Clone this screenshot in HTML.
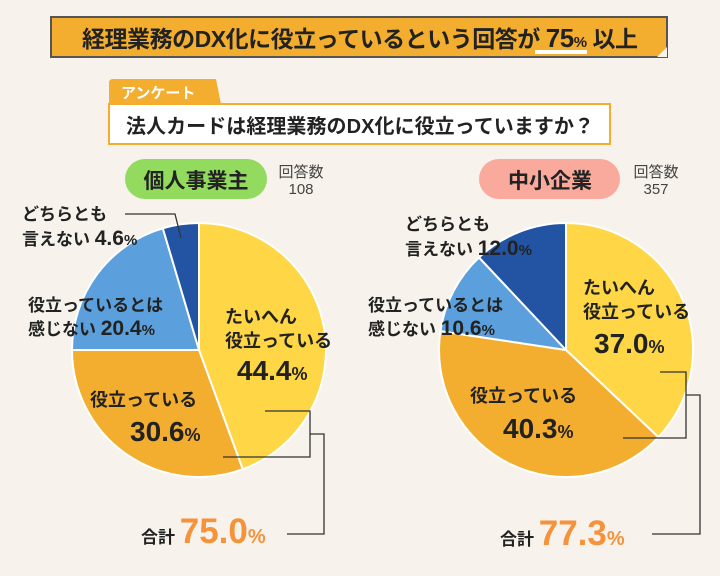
<!DOCTYPE html>
<html><head><meta charset="utf-8"><style>
html,body{margin:0;padding:0;background:#f7f3ec;}
svg{display:block;font-family:"Liberation Sans","Noto Sans CJK JP",sans-serif;}
</style></head><body>
<svg id="c" width="720" height="576" viewBox="0 0 720 576">
<rect width="720" height="576" fill="#f7f3ec"/>
<g>
<rect x="51" y="17" width="616" height="40" fill="#f3ae30" stroke="#555" stroke-width="2"/>
<polygon points="657,57 667,47 667,57" fill="#f7f3ec"/>
<text x="82" y="47" font-size="23" font-weight="bold" fill="#222" textLength="556">経理業務のDX化に役立っているという回答が <tspan font-size="26">75</tspan><tspan font-size="15">%</tspan> 以上</text>
<rect x="535" y="50" width="52" height="4" fill="#fff"/>
</g>
<g>
<path d="M109,104 L109,83 Q109,79 113,79 L216,79 L221,104 Z" fill="#f3ae30"/>
<text x="121" y="98" font-size="15" font-weight="bold" fill="#fff">アンケート</text>
<rect x="109" y="104" width="501" height="40" fill="#fff" stroke="#f3ae30" stroke-width="2"/>
<text x="126" y="133" font-size="20" font-weight="bold" fill="#222" textLength="468">法人カードは経理業務のDX化に役立っていますか？</text>
</g>
<g>
<rect x="125" y="159" width="142" height="40" rx="20" fill="#93db5e"/>
<text x="196" y="188" font-size="21" font-weight="bold" text-anchor="middle" fill="#222">個人事業主</text>
<text x="301" y="177" font-size="15" text-anchor="middle" fill="#444">回答数</text>
<text x="301" y="194" font-size="15" text-anchor="middle" fill="#444">108</text>
</g>
<g>
<rect x="479" y="159" width="141" height="40" rx="20" fill="#f9aa9c"/>
<text x="550" y="188" font-size="21" font-weight="bold" text-anchor="middle" fill="#222">中小企業</text>
<text x="656" y="177" font-size="15" text-anchor="middle" fill="#444">回答数</text>
<text x="656" y="194" font-size="15" text-anchor="middle" fill="#444">357</text>
</g>
<g id="pies"></g>
<g fill="none" stroke="#333" stroke-width="1.3">
<polyline points="125,214 175,214 181,238"/>
<polyline points="265,411 310,411 310,457 223,457"/>
<polyline points="310,434 324,434 324,534 287,534"/>
<polyline points="660,372 686,372 686,438 623,438"/>
<polyline points="686,395 700,395 700,534 652,534"/>
</g>
<g font-weight="bold" fill="#222">
<text x="22" y="220" font-size="17">どちらとも</text>
<text x="22" y="245" font-size="17">言えない <tspan font-size="21">4.6</tspan><tspan font-size="15">%</tspan></text>
<text x="28" y="311" font-size="17">役立っているとは</text>
<text x="28" y="335" font-size="17">感じない <tspan font-size="21">20.4</tspan><tspan font-size="15">%</tspan></text>
<text x="225" y="323" font-size="18">たいへん</text>
<text x="225" y="347" font-size="18">役立っている</text>
<text x="237" y="380" font-size="28">44.4<tspan font-size="18">%</tspan></text>
<text x="90" y="406" font-size="18">役立っている</text>
<text x="130" y="441" font-size="28">30.6<tspan font-size="18">%</tspan></text>
<text x="141" y="543" font-size="17">合計 <tspan font-size="35" fill="#f5923a">75.0</tspan><tspan font-size="20" fill="#f5923a">%</tspan></text>
<text x="405" y="230" font-size="17">どちらとも</text>
<text x="405" y="255" font-size="17">言えない <tspan font-size="21">12.0</tspan><tspan font-size="15">%</tspan></text>
<text x="368" y="311" font-size="17">役立っているとは</text>
<text x="368" y="335" font-size="17">感じない <tspan font-size="21">10.6</tspan><tspan font-size="15">%</tspan></text>
<text x="583" y="294" font-size="18">たいへん</text>
<text x="583" y="318" font-size="18">役立っている</text>
<text x="594" y="353" font-size="28">37.0<tspan font-size="18">%</tspan></text>
<text x="470" y="402" font-size="18">役立っている</text>
<text x="503" y="438" font-size="28">40.3<tspan font-size="18">%</tspan></text>
<text x="500" y="545" font-size="17">合計 <tspan font-size="35" fill="#f5923a">77.3</tspan><tspan font-size="20" fill="#f5923a">%</tspan></text>
</g>
</svg>
<script>
const categories = ["たいへん役立っている","役立っている","役立っているとは感じない","どちらとも言えない"];
const soloValues = [44.4, 30.6, 20.4, 4.6];
const smeValues = [37.0, 40.3, 10.6, 12.0];
const colors = ["#fed646","#f4ae2f","#5ba0dc","#2354a3"];
const NS="http://www.w3.org/2000/svg";
const g=document.getElementById('pies');
function pie(vals,cx,cy,r,name){
  const total=vals.reduce((a,b)=>a+b,0);
  let a0=-Math.PI/2;
  vals.forEach((v,i)=>{
    const a1=a0+v/total*2*Math.PI;
    const x0=cx+r*Math.cos(a0),y0=cy+r*Math.sin(a0),x1=cx+r*Math.cos(a1),y1=cy+r*Math.sin(a1);
    const p=document.createElementNS(NS,'path');
    p.setAttribute('d',`M${cx},${cy} L${x0},${y0} A${r},${r} 0 ${a1-a0>Math.PI?1:0} 1 ${x1},${y1} Z`);
    p.setAttribute('fill',colors[i]);
    p.setAttribute('stroke','#fff');
    p.setAttribute('stroke-width','2');
    
    
    g.appendChild(p);
    a0=a1;
  });
}
pie(soloValues,199,350,127,'solo-pie');
pie(smeValues,566,350,127,'sme-pie');
</script>
</body></html>
